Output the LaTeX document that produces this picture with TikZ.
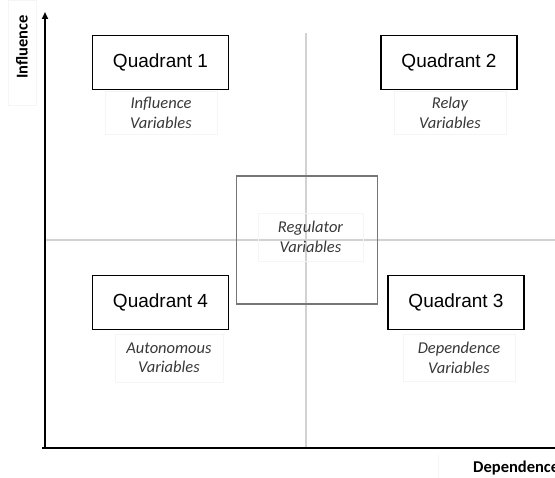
\documentclass[tikz,border=0pt]{standalone}
\usepackage{fontspec}
\setmainfont{Liberation Sans}
\newfontfamily\calib{Carlito}
\usetikzlibrary{arrows.meta}
\definecolor{gridgray}{HTML}{D2D2D2}
\definecolor{reggray}{HTML}{767676}
\definecolor{labelgray}{HTML}{383838}
\definecolor{faintgray}{HTML}{F5F5F5}
\begin{document}
\begin{tikzpicture}[x=1pt,y=-1pt,
  quadbox/.style={draw=black, fill=white, line width=1.6pt, minimum width=136pt, minimum height=54pt, inner sep=0pt, font=\fontsize{19}{22}\selectfont},
  varlabel/.style={draw=faintgray, line width=0.6pt, align=center, inner sep=0pt, text=labelgray, font=\calib\itshape\fontsize{16.5}{19.5}\selectfont},
  axislabel/.style={inner sep=0pt, font=\calib\bfseries\fontsize{16.5}{19}\selectfont},
  faintbox/.style={draw=faintgray, line width=0.6pt},
  gridline/.style={draw=gridgray, line width=1.3pt},
  axisline/.style={draw=black, line width=2.2pt}]
\useasboundingbox (0,0) rectangle (555,478);
% faint text frames of the axis labels
\draw[faintbox] (8,0) rectangle (36,105);
\draw[faintbox] (438,455) -- (438,478);
% axes coordinates
\coordinate (O) at (45,448);
\coordinate (Ytop) at (45,12);
\coordinate (Xstart) at (42,448);
\coordinate (Xend) at (556,448);
\coordinate (Vtop) at (306,33);
\coordinate (Vbot) at (306,448);
\coordinate (Hleft) at (45,240);
\coordinate (Hright) at (556,240);
% grid lines
\draw[gridline] (Vtop) -- (Vbot);
\draw[gridline] (Hleft) -- (Hright);
% regulator box
\node[draw=reggray, line width=1.3pt, minimum width=141pt, minimum height=128pt, inner sep=0pt] (reg) at (307,240) {};
% axes
\draw[axisline, -{Triangle[length=7pt,width=6pt]}] (O) -- (Ytop);
\draw[axisline] (Xstart) -- (Xend);
% axis labels
\node[axislabel, rotate=90] (yl) at (22,47) {Influence};
\node[axislabel, anchor=west] (xl) at (473,468) {Dependence};
% quadrant boxes
\node[quadbox] (q1) at (160.5,62.5) {Quadrant 1};
\node[quadbox] (q2) at (449,62.5) {Quadrant 2};
\node[quadbox] (q4) at (160.5,302.5) {Quadrant 4};
\node[quadbox] (q3) at (456,302.5) {Quadrant 3};
% variable labels
\node[varlabel, minimum width=112pt, minimum height=43pt] (l1) at (161,113) {Influence\\Variables};
\node[varlabel, minimum width=112pt, minimum height=43pt] (l2) at (450,113) {Relay\\Variables};
\node[varlabel, minimum width=105pt, minimum height=48pt] (lr) at (310.5,237) {Regulator\\Variables};
\node[varlabel, minimum width=108pt, minimum height=48pt] (l4) at (169,358) {Autonomous\\Variables};
\node[varlabel, minimum width=112pt, minimum height=47pt] (l3) at (459,358) {Dependence\\Variables};
\end{tikzpicture}
\end{document}
